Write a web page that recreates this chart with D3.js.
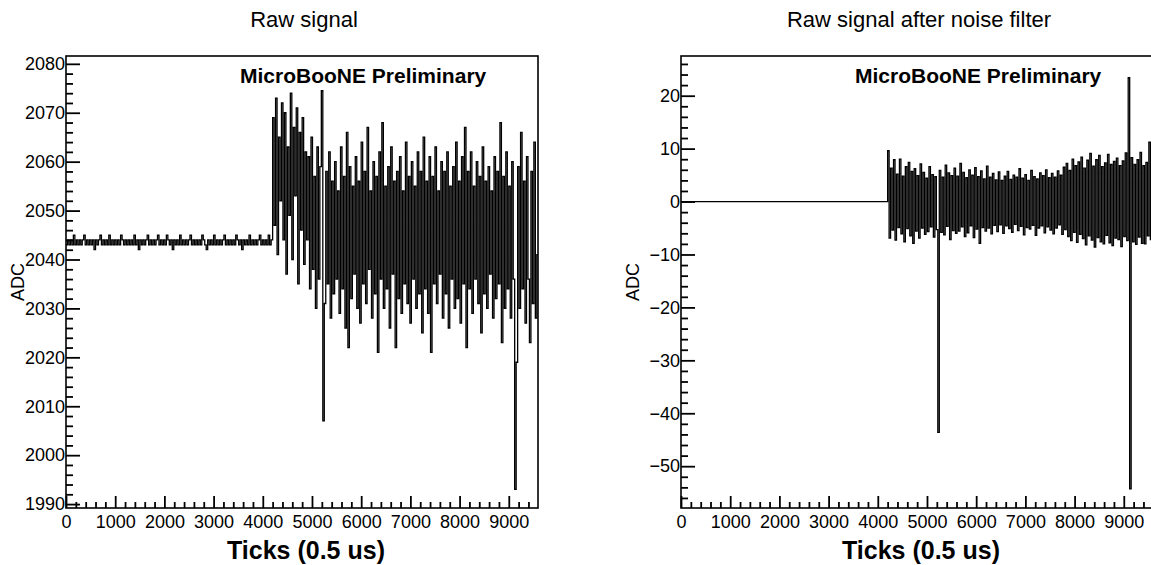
<!DOCTYPE html>
<html>
<head>
<meta charset="utf-8">
<script src="https://cdn.jsdelivr.net/npm/d3@7"></script>
<style>
  body { margin: 0; background: #fff; }
  svg { display: block; font-family: "Liberation Sans", Arial, Helvetica, sans-serif; }
</style>
</head>
<body>
<svg id="chart" width="1151" height="565"></svg>
<script>
(function () {

  // ---- data (ADC samples) -------------------------------------------
  const N_TICKS = 9594;
  const FLAT_STEP = 30;      // ticks between stored samples, quiet part
  const NOISE_START = 4200;  // where the noisy part begins
  const NOISE_STEP = 30;     // ticks between stored samples, noisy part

  const xTicks = [0, 1000, 2000, 3000, 4000, 5000, 6000, 7000, 8000, 9000];
  const rawYTicks = [1990, 2000, 2010, 2020, 2030, 2040, 2050, 2060, 2070, 2080];
  const filtYTicks = [-50, -40, -30, -20, -10, 0, 10, 20];

  // raw waveform, 0 .. 4170 every 30 ticks (pedestal band)
  const rawFlat = [
    2043, 2044, 2043, 2044, 2043, 2045, 2043, 2044, 2043, 2044, 2043, 2044, 2045, 2043,
    2044, 2043, 2044, 2043, 2044, 2042, 2044, 2043, 2044, 2045, 2043, 2044, 2043, 2044,
    2043, 2045, 2043, 2044, 2043, 2044, 2043, 2044, 2043, 2045, 2044, 2043, 2044, 2043,
    2044, 2043, 2044, 2043, 2045, 2043, 2044, 2042, 2044, 2043, 2044, 2043, 2044, 2045,
    2043, 2044, 2043, 2044, 2043, 2044, 2045, 2043, 2044, 2043, 2044, 2043, 2045, 2044,
    2043, 2044, 2042, 2044, 2043, 2044, 2043, 2045, 2043, 2044, 2043, 2044, 2043, 2044,
    2045, 2043, 2044, 2043, 2044, 2043, 2044, 2043, 2045, 2044, 2043, 2042, 2044, 2043,
    2044, 2043, 2045, 2043, 2044, 2043, 2044, 2043, 2044, 2045, 2043, 2044, 2043, 2044,
    2043, 2044, 2043, 2045, 2044, 2043, 2044, 2042, 2044, 2043, 2044, 2043, 2045, 2043,
    2044, 2043, 2044, 2043, 2044, 2045, 2043, 2044, 2043, 2044, 2043, 2045, 2043, 2044
  ];

  // raw waveform, 4200 .. 9570 every 30 ticks
  const rawNoise = [
    2069, 2047, 2073, 2041, 2065, 2052, 2072, 2044, 2070, 2037, 2063, 2049,
    2074, 2040, 2067, 2053, 2071, 2035, 2066, 2046, 2069, 2039, 2062, 2044,
    2061, 2034, 2065, 2038, 2057, 2030, 2063, 2036, 2059,
    2074.5, 2007,
    2031, 2058, 2035, 2062, 2028, 2056, 2033, 2060, 2036, 2054, 2029, 2063,
    2034, 2057, 2026, 2066, 2022, 2059, 2032, 2055, 2037, 2061, 2030, 2056,
    2027, 2064, 2035, 2058, 2031, 2067, 2038, 2054, 2028, 2060, 2033, 2057,
    2021, 2062, 2036, 2068, 2030, 2055, 2034, 2059, 2026, 2063, 2037, 2056,
    2022, 2058, 2032, 2061, 2029, 2054, 2035, 2064, 2031, 2057, 2027, 2060,
    2036, 2055, 2030, 2062, 2033, 2058, 2025, 2065, 2034, 2056, 2029, 2061,
    2021, 2057, 2035, 2063, 2031, 2054, 2037, 2060, 2028, 2058, 2033, 2062,
    2026, 2055, 2036, 2059, 2030, 2064, 2032, 2056, 2027, 2061, 2035, 2067,
    2022, 2058, 2034, 2062, 2029, 2055, 2036, 2060, 2031, 2057, 2025, 2063,
    2033, 2056, 2030, 2059, 2037, 2054, 2028, 2061, 2032, 2058, 2035, 2068,
    2023, 2057, 2030, 2062, 2034, 2055, 2028, 2060, 2036,
    1993, 2019,
    2059, 2030, 2066, 2034, 2056, 2027, 2061, 2036, 2023, 2058, 2031, 2064,
    2028, 2041
  ];

  // filtered waveform: flat pedestal, then 4200 .. 9570 every 30 ticks
  const filtFlat = [0];
  const filtNoise = [
    9.6, -6.9, 6.3, -5.4, 7.9, -7.3, 5.2, -4.9, 8.0, -6.1, 4.8, -7.6,
    6.6, -5.1, 7.4, -6.5, 5.7, -7.9, 6.2, -5.6, 4.9, -6.9, 7.1, -5.0,
    5.5, -6.2, 4.4, -5.7, 6.6, -4.8, 5.1, -6.7, 4.7, -5.3,
    -43.6,
    5.9, -5.8, 4.6, -6.3, 6.9, -4.7, 5.4, -7.2, 4.9, -5.5, 6.3, -6.0,
    4.8, -5.6, 7.2, -4.8, 5.5, -6.6, 4.5, -5.9, 6.0, -4.6, 5.0, -6.8,
    6.4, -5.2, 4.7, -7.9, 5.8, -4.9, 4.3, -5.6, 6.7, -5.0, 4.6, -6.1,
    5.3, -4.5, 4.1, -5.7, 5.6, -4.4, 4.0, -6.0, 4.8, -4.6, 5.7, -5.1,
    4.2, -5.8, 5.0, -4.3, 4.6, -5.5, 6.2, -4.7, 4.4, -6.3, 5.1, -4.9,
    4.0, -5.2, 5.9, -4.5, 4.7, -6.4, 4.3, -5.0, 5.4, -4.6, 4.9, -5.9,
    6.0, -4.8, 4.5, -5.4, 5.3, -6.1, 4.6, -5.0, 5.8, -4.4, 5.0, -6.2,
    6.5, -5.3, 7.2, -6.6, 5.9, -7.4, 8.0, -5.8, 6.8, -7.7, 7.5, -6.2,
    8.4, -7.0, 6.3, -8.2, 7.8, -6.5, 9.1, -7.3, 6.7, -8.6, 7.9, -6.8,
    8.7, -7.6, 6.6, -8.0, 7.3, -6.4, 8.9, -7.8, 7.0, -8.3, 7.6, -6.9,
    8.2, -7.2, 6.8, -8.5, 7.7, -6.6, 9.2, -7.4,
    23.4, -54.3,
    8.3, -7.6, 7.0, -8.1, 7.9, -6.7, 9.3, -7.9, 6.8, -8.0, 7.4, -6.5,
    11.2, -7.2, 6.9
  ];

  // ---- layout --------------------------------------------------------
  const FRAME_W = 472, TOP = 56, BOTTOM = 508;

  const panels = [
    { id: "raw",  title: "Raw signal", left: 66,
      flat: rawFlat, noise: rawNoise, yDomain: [1989.2, 2081.6], yTicks: rawYTicks },
    { id: "filt", title: "Raw signal after noise filter", left: 681,
      flat: filtFlat, noise: filtNoise, yDomain: [-57.9, 27.5], yTicks: filtYTicks }
  ];

  const svg = d3.select("#chart");
  const fmt = v => (v < 0 ? "\u2212" + Math.abs(v) : String(v));

  function buildSeries(flat, noise) {
    const pts = flat.map((v, i) => [i * FLAT_STEP, v]);
    noise.forEach((v, i) => pts.push([NOISE_START + i * NOISE_STEP, v]));
    pts.push([N_TICKS, noise[noise.length - 1]]);
    return pts;
  }

  panels.forEach(p => {
    const x = d3.scaleLinear().domain([0, N_TICKS]).range([p.left, p.left + FRAME_W]);
    const y = d3.scaleLinear().domain(p.yDomain).range([BOTTOM, TOP]);

    svg.append("clipPath").attr("id", `clip-${p.id}`)
      .append("rect")
      .attr("x", p.left).attr("y", TOP)
      .attr("width", FRAME_W).attr("height", BOTTOM - TOP);

    // waveform drawn as histogram steps
    const line = d3.line()
      .x(d => x(d[0]))
      .y(d => y(d[1]))
      .curve(d3.curveStepAfter);

    svg.append("path")
      .datum(buildSeries(p.flat, p.noise))
      .attr("clip-path", `url(#clip-${p.id})`)
      .attr("d", line)
      .attr("fill", "none")
      .attr("stroke", "#000")
      .attr("stroke-width", 1.3);

    // x axis: major + minor ticks pointing inward
    const xMinor = d3.range(0, N_TICKS, 200).filter(v => v % 1000 !== 0);
    svg.append("g")
      .attr("transform", `translate(0,${BOTTOM})`)
      .call(d3.axisBottom(x).tickValues(xMinor).tickSizeInner(-6).tickSizeOuter(0).tickFormat(""))
      .call(g => g.select(".domain").remove());

    svg.append("g")
      .attr("transform", `translate(0,${BOTTOM})`)
      .call(d3.axisBottom(x).tickValues(xTicks).tickSizeInner(-12).tickSizeOuter(0)
        .tickPadding(7).tickFormat(fmt))
      .call(g => g.select(".domain").remove())
      .call(g => g.selectAll("text").attr("font-size", 18).attr("fill", "#000")
        .attr("font-family", "Liberation Sans, Arial, sans-serif"));

    // y axis
    const lo = Math.ceil(p.yDomain[0] / 2) * 2;
    const yMinor = d3.range(lo, p.yDomain[1], 2).filter(v => v % 10 !== 0);
    svg.append("g")
      .attr("transform", `translate(${p.left},0)`)
      .call(d3.axisLeft(y).tickValues(yMinor).tickSizeInner(-7).tickSizeOuter(0).tickFormat(""))
      .call(g => g.select(".domain").remove());

    svg.append("g")
      .attr("transform", `translate(${p.left},0)`)
      .call(d3.axisLeft(y).tickValues(p.yTicks).tickSizeInner(-14).tickSizeOuter(0)
        .tickPadding(1).tickFormat(fmt))
      .call(g => g.select(".domain").remove())
      .call(g => g.selectAll("text").attr("font-size", 18).attr("fill", "#000")
        .attr("font-family", "Liberation Sans, Arial, sans-serif"));

    svg.selectAll(".tick line").attr("stroke", "#000").attr("stroke-width", 1.8);

    // frame
    svg.append("rect")
      .attr("x", p.left).attr("y", TOP)
      .attr("width", FRAME_W).attr("height", BOTTOM - TOP)
      .attr("fill", "none").attr("stroke", "#000").attr("stroke-width", 1.6);

    // texts
    svg.append("text")
      .attr("x", p.left + 238).attr("y", 27)
      .attr("text-anchor", "middle")
      .style("font-size", "22px")
      .text(p.title);

    svg.append("text")
      .attr("x", p.left + 174).attr("y", 83)
      .style("font-size", "21px").style("font-weight", "bold")
      .text("MicroBooNE Preliminary");

    svg.append("text")
      .attr("x", p.left + 240).attr("y", 559)
      .attr("text-anchor", "middle")
      .style("font-size", "25px").style("font-weight", "bold")
      .text("Ticks (0.5 us)");

    svg.append("text")
      .attr("transform", `translate(${p.left - 42},${(TOP + BOTTOM) / 2}) rotate(-90)`)
      .attr("text-anchor", "middle")
      .style("font-size", "18px")
      .text("ADC");
  });

})();
</script>
</body>
</html>
